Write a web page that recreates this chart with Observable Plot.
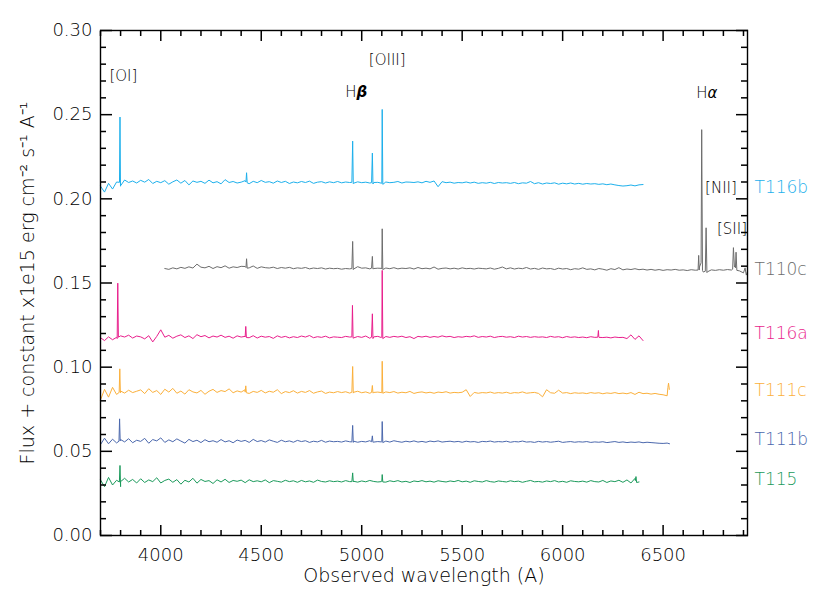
<!DOCTYPE html>
<html>
<head>
<meta charset="utf-8">
<script src="https://cdn.jsdelivr.net/npm/d3@7"></script>
<script src="https://cdn.jsdelivr.net/npm/@observablehq/plot@0.6"></script>
</head>
<body style="margin:0">
<div id="chart"></div>
<script>
// ---------- data (flux + constant, x1e15 erg cm^-2 s^-1 A^-1) ----------
const seriesNames  = ["T116b", "T110c", "T116a", "T111c", "T111b", "T115"];
const seriesColors = ["#1db0ec", "#6d6d6d", "#e91e8c", "#fbb03b", "#4b68ad", "#1b9a5b"];
const labelFlux    = [0.2068, 0.1580, 0.1198, 0.0862, 0.0570, 0.0333];

// continuum samples: start wavelength, 20 A sampling
const sampleStep = 20;
const startWl = [3700, 4020, 3700, 3700, 3700, 3700];

const T116b = [
  0.2075,0.2040,0.2092,0.2058,0.2100,0.2078,0.2112,0.2097,0.2106,0.2094,
  0.2110,0.2099,0.2115,0.2091,0.2104,0.2096,0.2108,0.2087,0.2101,0.2112,
  0.2093,0.2109,0.2083,0.2106,0.2098,0.2104,0.2092,0.2111,0.2095,0.2102,
  0.2089,0.2114,0.2097,0.2103,0.2094,0.2099,0.2108,0.2090,0.2104,0.2096,
  0.2109,0.2098,0.2102,0.2093,0.2106,0.2097,0.2104,0.2091,0.2100,0.2095,
  0.2103,0.2097,0.2105,0.2092,0.2099,0.2102,0.2094,0.2101,0.2096,0.2103,
  0.2095,0.2100,0.2097,0.2093,0.2101,0.2096,0.2099,0.2094,0.2097,0.2098,
  0.2092,0.2100,0.2096,0.2098,0.2103,0.2094,0.2100,0.2099,0.2097,0.2101,
  0.2095,0.2104,0.2098,0.2106,0.2072,0.2102,0.2096,0.2099,0.2093,0.2097,
  0.2095,0.2100,0.2094,0.2099,0.2092,0.2096,0.2093,0.2098,0.2091,0.2097,
  0.2094,0.2096,0.2092,0.2097,0.2090,0.2095,0.2093,0.2103,0.2090,0.2096,
  0.2088,0.2094,0.2091,0.2095,0.2087,0.2093,0.2089,0.2094,0.2088,0.2092,
  0.2087,0.2091,0.2088,0.2090,0.2086,0.2089,0.2084,0.2088,0.2083,0.2079,
  0.2076,0.2078,0.2082,0.2077,0.2083,0.2085
];
const T110c = [
  0.1586,0.1581,0.1590,0.1584,0.1593,0.1587,0.1596,0.1589,0.1612,0.1594,
  0.1590,0.1599,0.1586,0.1597,0.1591,0.1602,0.1588,0.1596,0.1592,0.1599,
  0.1598,0.1590,0.1601,0.1587,0.1596,0.1591,0.1589,0.1594,0.1586,0.1592,
  0.1588,0.1593,0.1585,0.1590,0.1587,0.1592,0.1584,0.1589,0.1586,0.1590,
  0.1583,0.1588,0.1585,0.1587,0.1582,0.1586,0.1584,0.1583,0.1597,0.1588,
  0.1590,0.1584,0.1586,0.1588,0.1583,0.1589,0.1585,0.1591,0.1584,0.1588,
  0.1586,0.1590,0.1583,0.1592,0.1585,0.1588,0.1584,0.1595,0.1582,0.1587,
  0.1589,0.1584,0.1588,0.1583,0.1590,0.1585,0.1587,0.1583,0.1588,0.1586,
  0.1584,0.1589,0.1582,0.1587,0.1595,0.1584,0.1590,0.1583,0.1588,0.1585,
  0.1592,0.1583,0.1587,0.1581,0.1589,0.1584,0.1586,0.1580,0.1588,0.1583,
  0.1586,0.1579,0.1585,0.1582,0.1590,0.1581,0.1584,0.1578,0.1586,0.1582,
  0.1576,0.1585,0.1580,0.1591,0.1578,0.1583,0.1580,0.1585,0.1579,0.1582,
  0.1577,0.1581,0.1576,0.1580,0.1575,0.1579,0.1577,0.1581,0.1576,0.1578,
  0.1574,0.1579,0.1576,0.1577,0.1565,0.1566,0.1578,0.1575,0.1579,0.1576,
  0.1580,0.1577,0.1590,0.1572,0.1560,0.1568
];
const T116a = [
  0.1175,0.1158,0.1180,0.1163,0.1177,0.1186,0.1179,0.1190,0.1173,0.1185,
  0.1180,0.1168,0.1187,0.1150,0.1183,0.1222,0.1178,0.1189,0.1172,0.1184,
  0.1192,0.1176,0.1186,0.1170,0.1193,0.1181,0.1188,0.1174,0.1185,0.1179,
  0.1190,0.1177,0.1184,0.1172,0.1186,0.1179,0.1183,0.1175,0.1187,0.1173,
  0.1184,0.1178,0.1182,0.1171,0.1186,0.1177,0.1183,0.1174,0.1181,0.1176,
  0.1185,0.1179,0.1188,0.1175,0.1181,0.1177,0.1184,0.1174,0.1180,0.1178,
  0.1176,0.1183,0.1179,0.1174,0.1182,0.1177,0.1185,0.1172,0.1180,0.1183,
  0.1178,0.1182,0.1177,0.1183,0.1179,0.1184,0.1176,0.1181,0.1170,0.1183,
  0.1179,0.1184,0.1177,0.1182,0.1178,0.1186,0.1180,0.1183,0.1176,0.1181,
  0.1178,0.1183,0.1180,0.1186,0.1177,0.1182,0.1179,0.1184,0.1176,0.1181,
  0.1183,0.1178,0.1181,0.1176,0.1184,0.1179,0.1182,0.1177,0.1181,0.1178,
  0.1180,0.1176,0.1183,0.1178,0.1181,0.1175,0.1182,0.1177,0.1180,0.1176,
  0.1179,0.1175,0.1181,0.1177,0.1180,0.1176,0.1178,0.1174,0.1179,0.1176,
  0.1177,0.1170,0.1192,0.1165,0.1186,0.1158
];
const T111c = [
  0.0805,0.0868,0.0822,0.0880,0.0838,0.0858,0.0846,0.0863,0.0849,0.0857,
  0.0865,0.0843,0.0872,0.0850,0.0861,0.0838,0.0869,0.0852,0.0874,0.0845,
  0.0858,0.0840,0.0866,0.0853,0.0847,0.0862,0.0839,0.0857,0.0868,0.0850,
  0.0861,0.0855,0.0871,0.0848,0.0859,0.0852,0.0866,0.0844,0.0856,0.0850,
  0.0862,0.0847,0.0857,0.0851,0.0866,0.0843,0.0855,0.0849,0.0860,0.0846,
  0.0856,0.0850,0.0861,0.0845,0.0853,0.0858,0.0844,0.0852,0.0848,0.0855,
  0.0849,0.0854,0.0846,0.0851,0.0857,0.0848,0.0853,0.0845,0.0850,0.0852,
  0.0847,0.0853,0.0849,0.0855,0.0846,0.0851,0.0848,0.0856,0.0844,0.0850,
  0.0853,0.0847,0.0851,0.0845,0.0852,0.0849,0.0854,0.0846,0.0850,0.0848,
  0.0851,0.0866,0.0826,0.0850,0.0845,0.0849,0.0847,0.0852,0.0845,0.0849,
  0.0846,0.0851,0.0844,0.0849,0.0847,0.0853,0.0845,0.0848,0.0850,0.0844,
  0.0824,0.0866,0.0848,0.0845,0.0863,0.0846,0.0849,0.0843,0.0848,0.0845,
  0.0847,0.0843,0.0849,0.0845,0.0848,0.0842,0.0847,0.0844,0.0849,0.0843,
  0.0846,0.0842,0.0849,0.0838,0.0851,0.0843,0.0845,0.0840,0.0844,0.0839,
  0.0836,0.0830
];
const T111b = [
  0.0540,0.0578,0.0545,0.0572,0.0550,0.0570,0.0556,0.0575,0.0551,0.0566,
  0.0559,0.0577,0.0548,0.0570,0.0562,0.0580,0.0553,0.0568,0.0557,0.0574,
  0.0561,0.0549,0.0571,0.0558,0.0566,0.0552,0.0569,0.0557,0.0563,0.0554,
  0.0570,0.0556,0.0563,0.0551,0.0567,0.0559,0.0565,0.0553,0.0571,0.0558,
  0.0564,0.0555,0.0568,0.0560,0.0553,0.0566,0.0557,0.0562,0.0554,0.0565,
  0.0558,0.0563,0.0553,0.0560,0.0556,0.0565,0.0554,0.0561,0.0557,0.0559,
  0.0555,0.0562,0.0557,0.0560,0.0554,0.0559,0.0556,0.0563,0.0555,0.0558,
  0.0557,0.0561,0.0555,0.0563,0.0558,0.0554,0.0560,0.0556,0.0562,0.0555,
  0.0559,0.0554,0.0561,0.0557,0.0562,0.0555,0.0558,0.0560,0.0556,0.0559,
  0.0554,0.0560,0.0556,0.0558,0.0553,0.0559,0.0557,0.0561,0.0555,0.0558,
  0.0556,0.0560,0.0554,0.0558,0.0556,0.0561,0.0555,0.0557,0.0553,0.0559,
  0.0555,0.0558,0.0554,0.0557,0.0560,0.0553,0.0556,0.0558,0.0554,0.0557,
  0.0555,0.0558,0.0553,0.0556,0.0554,0.0557,0.0552,0.0555,0.0558,0.0553,
  0.0556,0.0552,0.0555,0.0553,0.0556,0.0551,0.0554,0.0552,0.0550,0.0548,
  0.0547,0.0549
];
const T115 = [
  0.0330,0.0290,0.0345,0.0300,0.0328,0.0290,0.0340,0.0318,0.0333,0.0312,
  0.0337,0.0315,0.0330,0.0320,0.0343,0.0312,0.0327,0.0335,0.0316,0.0332,
  0.0305,0.0328,0.0318,0.0340,0.0311,0.0333,0.0321,0.0326,0.0309,0.0331,
  0.0318,0.0334,0.0315,0.0327,0.0322,0.0329,0.0314,0.0331,0.0320,0.0325,
  0.0319,0.0330,0.0314,0.0326,0.0322,0.0317,0.0328,0.0320,0.0325,0.0316,
  0.0327,0.0319,0.0324,0.0316,0.0329,0.0321,0.0318,0.0325,0.0320,0.0323,
  0.0318,0.0326,0.0320,0.0322,0.0317,0.0324,0.0319,0.0327,0.0321,0.0318,
  0.0323,0.0317,0.0325,0.0320,0.0326,0.0318,0.0322,0.0315,0.0324,0.0320,
  0.0326,0.0319,0.0323,0.0317,0.0325,0.0321,0.0318,0.0324,0.0320,0.0327,
  0.0319,0.0323,0.0316,0.0325,0.0321,0.0318,0.0326,0.0320,0.0317,0.0324,
  0.0321,0.0318,0.0325,0.0320,0.0323,0.0316,0.0322,0.0327,0.0319,0.0321,
  0.0317,0.0324,0.0320,0.0326,0.0318,0.0322,0.0316,0.0325,0.0321,0.0319,
  0.0323,0.0317,0.0326,0.0320,0.0318,0.0327,0.0315,0.0324,0.0320,0.0328,
  0.0316,0.0330,0.0312,0.0339,0.0318
];

// emission-line samples [wavelength A, flux]
const T116bLines = [[3794.5,0.2098],[3797,0.2486],[3799.5,0.2075],[4424,0.2100],[4427,0.2155],[4430,0.2095],
  [4951,0.2098],[4955,0.2343],[4958,0.2090],[5049,0.2096],[5053,0.2272],[5056,0.2088],
  [5098,0.2093],[5102,0.2531],[5105,0.2086]];
const T110cLines = [[4424,0.1592],[4427,0.1644],[4430,0.1588],[4951,0.1586],[4955,0.1747],[4958,0.1580],
  [5049,0.1588],[5053,0.1658],[5056,0.1583],[5098,0.1587],[5102,0.1822],[5105,0.1580],
  [6674,0.1577],[6677,0.1664],[6681,0.1595],[6689,0.1620],[6692,0.2411],[6696,0.1575],
  [6710,0.1570],[6714,0.1828],[6718,0.1562],[6846,0.1582],[6850,0.1710],[6855,0.1595],
  [6859,0.1600],[6863,0.1683],[6867,0.1575],[6908,0.1590],[6914,0.1547]];
const T116aLines = [[3783,0.1170],[3786,0.1499],[3789,0.1178],[4420,0.1180],[4423,0.1242],[4426,0.1176],
  [4951,0.1180],[4954,0.1367],[4957,0.1172],[5049,0.1178],[5053,0.1317],[5056,0.1170],
  [5098,0.1176],[5102,0.1575],[5105,0.1170],[6175,0.1178],[6178,0.1218],[6181,0.1177]];
const T111cLines = [[3793,0.0850],[3796,0.0990],[3799,0.0848],[4420,0.0852],[4423,0.0889],[4426,0.0848],
  [4951,0.0851],[4955,0.1004],[4958,0.0846],[5049,0.0850],[5053,0.0891],[5056,0.0846],
  [5098,0.0849],[5102,0.1035],[5105,0.0845],[6524,0.0880],[6527,0.0905],[6531,0.0868]];
const T111bLines = [[3792,0.0560],[3795,0.0693],[3798,0.0562],[4951,0.0556],[4955,0.0654],[4958,0.0553],
  [5049,0.0557],[5053,0.0592],[5056,0.0554],[5098,0.0556],[5102,0.0677],[5105,0.0552],[6532,0.0545]];
const T115Lines = [[3794,0.0318],[3797,0.0416],[3800,0.0320],[4951,0.0320],[4955,0.0372],[4958,0.0318],
  [5098,0.0320],[5102,0.0362],[5105,0.0318],[6362,0.0326],[6365,0.0350],[6368,0.0315]];

// line identifications
const idNames = ["[OI]", "[OIII]", "Hβ", "Hα", "[NII]", "[SII]"];
const idWl    = [3814, 5127, 4973, 6718, 6788, 6843];
const idFlux  = [0.2727, 0.2822, 0.2632, 0.2626, 0.2062, 0.1818];

// axis ticks
const xDomain = [3700, 6920];
const yDomain = [0, 0.30];
const xMajor = [4000, 4500, 5000, 5500, 6000, 6500];
const xMinor = [3700, 3800, 3900, 4100, 4200, 4300, 4400, 4600, 4700, 4800, 4900, 5100, 5200, 5300, 5400,
                5600, 5700, 5800, 5900, 6100, 6200, 6300, 6400, 6600, 6700, 6800, 6900];
const yMajor = [0, 0.05, 0.10, 0.15, 0.20, 0.25, 0.30];
const yMinor = [0.01, 0.02, 0.03, 0.04, 0.06, 0.07, 0.08, 0.09, 0.11, 0.12, 0.13, 0.14, 0.16, 0.17, 0.18, 0.19,
                0.21, 0.22, 0.23, 0.24, 0.26, 0.27, 0.28, 0.29];

// ---------- build ----------
const continua = [T116b, T110c, T116a, T111c, T111b, T115];
const lineSets = [T116bLines, T110cLines, T116aLines, T111cLines, T111bLines, T115Lines];

const spectra = seriesNames.map((name, s) => {
  const pts = continua[s].map((v, i) => ({wl: startWl[s] + i * sampleStep, flux: v}));
  lineSets[s].forEach(([wl, flux]) => pts.push({wl, flux}));
  pts.sort((a, b) => a.wl - b.wl);
  return pts;
});
const labels = seriesNames.map((name, i) => ({name, flux: labelFlux[i], color: seriesColors[i]}));
const ids = idNames.map((name, i) => ({name, wl: idWl[i], flux: idFlux[i]}));

const INK = "#000";
const TXT = {fontFamily: "DejaVu Sans, sans-serif", fontWeight: 200};
const TICK = {label: null, stroke: "#000", strokeWidth: 1.5, tickFormat: () => ""};

const chart = Plot.plot({
  width: 830,
  height: 615,
  marginLeft: 100,
  marginRight: 83,
  marginTop: 30,
  marginBottom: 80,
  x: {domain: xDomain},
  y: {domain: yDomain},
  marks: [
    ...spectra.map((pts, s) => Plot.line(pts, {x: "wl", y: "flux", stroke: seriesColors[s], strokeWidth: 1})),
    Plot.axisX(xMajor, {...TXT, anchor: "bottom", tickSize: 0, tickPadding: 13, tickFormat: d => String(d), label: null, fill: INK, fontSize: 18}),
    Plot.axisY(yMajor, {...TXT, anchor: "left", tickSize: 0, tickPadding: 8, tickFormat: d => d.toFixed(2), label: null, fill: INK, fontSize: 18}),
    // inward ticks on all four sides
    Plot.axisX(xMajor, {...TICK, anchor: "bottom", tickSize: 10, dy: -10}),
    Plot.axisX(xMinor, {...TICK, anchor: "bottom", tickSize: 5, dy: -5}),
    Plot.axisX(xMajor, {...TICK, anchor: "top", tickSize: 10, dy: 10}),
    Plot.axisX(xMinor, {...TICK, anchor: "top", tickSize: 5, dy: 5}),
    Plot.axisY(yMajor, {...TICK, anchor: "left", tickSize: 12, dx: 12}),
    Plot.axisY(yMinor, {...TICK, anchor: "left", tickSize: 6, dx: 6}),
    Plot.axisY(yMajor, {...TICK, anchor: "right", tickSize: 12, dx: -12}),
    Plot.axisY(yMinor, {...TICK, anchor: "right", tickSize: 7, dx: -7}),
    Plot.frame({stroke: "#000", strokeWidth: 1.4}),
    // series names on the right
    Plot.text(labels, {...TXT, y: "flux", text: "name", fill: "color", frameAnchor: "right", textAnchor: "start", dx: 7, fontSize: 17}),
    // line identifications
    Plot.text(ids, {...TXT, x: "wl", y: "flux", text: "name", fill: INK, fontSize: 15}),
    // axis titles
    Plot.text(["Observed wavelength (A)"], {...TXT, frameAnchor: "bottom", dy: 46, fill: INK, fontSize: 19}),
    Plot.text(["Flux + constant x1e15 erg cm⁻² s⁻¹ A⁻¹"], {...TXT, frameAnchor: "left", textAnchor: "middle", rotate: -90, dx: -73, fill: INK, fontSize: 19})
  ]
});

// Greek letters: beta bold italic, alpha italic
d3.select(chart).selectAll("text").each(function () {
  const t = this.textContent;
  if (t === "Hβ" || t === "Hα") {
    const sel = d3.select(this);
    sel.text(null);
    sel.append("tspan").text("H");
    sel.append("tspan")
      .attr("font-style", "italic")
      .attr("font-weight", t === "Hβ" ? "bold" : "normal")
      .text(t.slice(1));
  }
});

document.getElementById("chart").appendChild(chart);
</script>
</body>
</html>
